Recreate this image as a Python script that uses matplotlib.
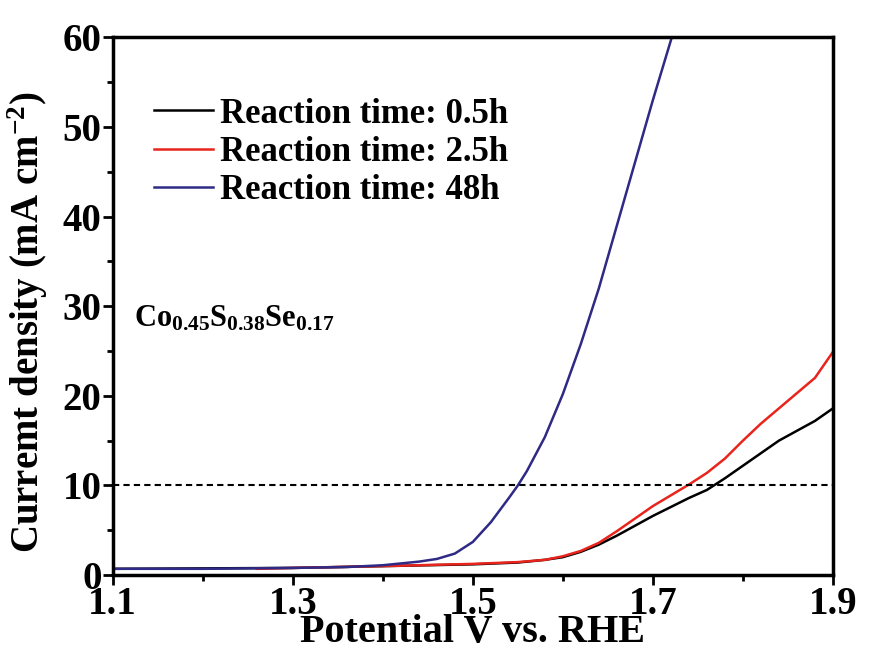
import numpy as np
import matplotlib.pyplot as plt

plt.rcParams['font.family'] = 'Liberation Serif'
plt.rcParams['font.weight'] = 'bold'
plt.rcParams['mathtext.fontset'] = 'custom'
plt.rcParams['mathtext.rm'] = 'Liberation Serif:bold'
plt.rcParams['mathtext.it'] = 'Liberation Serif:bold'
plt.rcParams['mathtext.bf'] = 'Liberation Serif:bold'

# LSV curves, potential (V vs. RHE) and current density (mA cm-2)
v_05 = [1.10, 1.30, 1.40, 1.50, 1.55, 1.58, 1.60, 1.62, 1.64, 1.66, 1.68, 1.70, 1.72,
        1.74, 1.76, 1.78, 1.80, 1.82, 1.84, 1.86, 1.88, 1.90]
j_05 = [0.7, 0.8, 1.0, 1.2, 1.4, 1.7, 2.0, 2.6, 3.4, 4.4, 5.5, 6.6, 7.6,
        8.6, 9.5, 10.8, 12.2, 13.6, 15.0, 16.1, 17.2, 18.6]

v_25 = [1.26, 1.30, 1.40, 1.50, 1.55, 1.58, 1.60, 1.62, 1.64, 1.66, 1.68, 1.70, 1.72,
        1.74, 1.76, 1.78, 1.80, 1.82, 1.84, 1.86, 1.88, 1.90]
j_25 = [0.7, 0.8, 1.0, 1.25, 1.45, 1.7, 2.1, 2.7, 3.6, 4.9, 6.3, 7.7, 8.9,
        10.1, 11.4, 13.0, 15.0, 16.9, 18.6, 20.3, 22.0, 24.9]

v_48 = [1.10, 1.20, 1.30, 1.36, 1.40, 1.42, 1.44, 1.46, 1.48, 1.50, 1.52, 1.54, 1.55,
        1.56, 1.58, 1.60, 1.62, 1.64, 1.66, 1.68, 1.70, 1.721]
j_48 = [0.7, 0.7, 0.8, 0.9, 1.1, 1.3, 1.5, 1.8, 2.4, 3.7, 5.9, 8.6, 10.0,
        11.6, 15.4, 20.2, 25.8, 32.0, 39.0, 46.0, 53.0, 60.0]

labels = ['Reaction time: 0.5h', 'Reaction time: 2.5h', 'Reaction time: 48h']
colors = ['black', '#e8241c', '#2e2a85']

fig, ax = plt.subplots(figsize=(8.74, 6.55), dpi=100)
fig.subplots_adjust(left=0.129, right=0.953, top=0.943, bottom=0.122)

for v, j, lab, c in zip([v_05, v_25, v_48], [j_05, j_25, j_48], labels, colors):
    ax.plot(v, j, color=c, lw=1.8, label=lab)

# 10 mA cm-2 reference level
ax.axhline(10, color='black', lw=1.5, ls=(0, (3, 2)))

ax.set_xlim(1.1, 1.9)
ax.set_ylim(0, 60)
ax.set_xticks([1.1, 1.3, 1.5, 1.7, 1.9])
ax.set_xticks([1.2, 1.4, 1.6, 1.8], minor=True)
ax.set_yticks(range(0, 61, 10))
ax.set_yticks(range(5, 60, 10), minor=True)
ax.tick_params(which='both', direction='out', width=2, labelsize=28)
ax.tick_params(which='major', length=7, pad=1)
ax.tick_params(which='minor', length=4)
for s in ax.spines.values():
    s.set_linewidth(2.5)

ax.set_xlabel('Potential V vs. RHE', fontsize=29, fontweight='bold')
ax.xaxis.label.set_va('center')
ax.xaxis.set_label_coords(0.5, -0.106)
ax.set_ylabel('Curremt density (mA cm$^{-2}$)', fontsize=28, fontweight='bold')
ax.yaxis.label.set_va('center')
ax.yaxis.set_label_coords(-0.118, 0.47)

ax.text(1.124, 28.6, r'Co$_{0.45}$S$_{0.38}$Se$_{0.17}$', fontsize=22,
        fontweight='bold', va='center')

ax.legend(loc='upper left', bbox_to_anchor=(0.057, 0.888), frameon=False,
          fontsize=25, handlelength=1.7, handletextpad=0.2, labelspacing=0.15,
          borderaxespad=0, borderpad=0)

fig.savefig('out.png', dpi=100)
